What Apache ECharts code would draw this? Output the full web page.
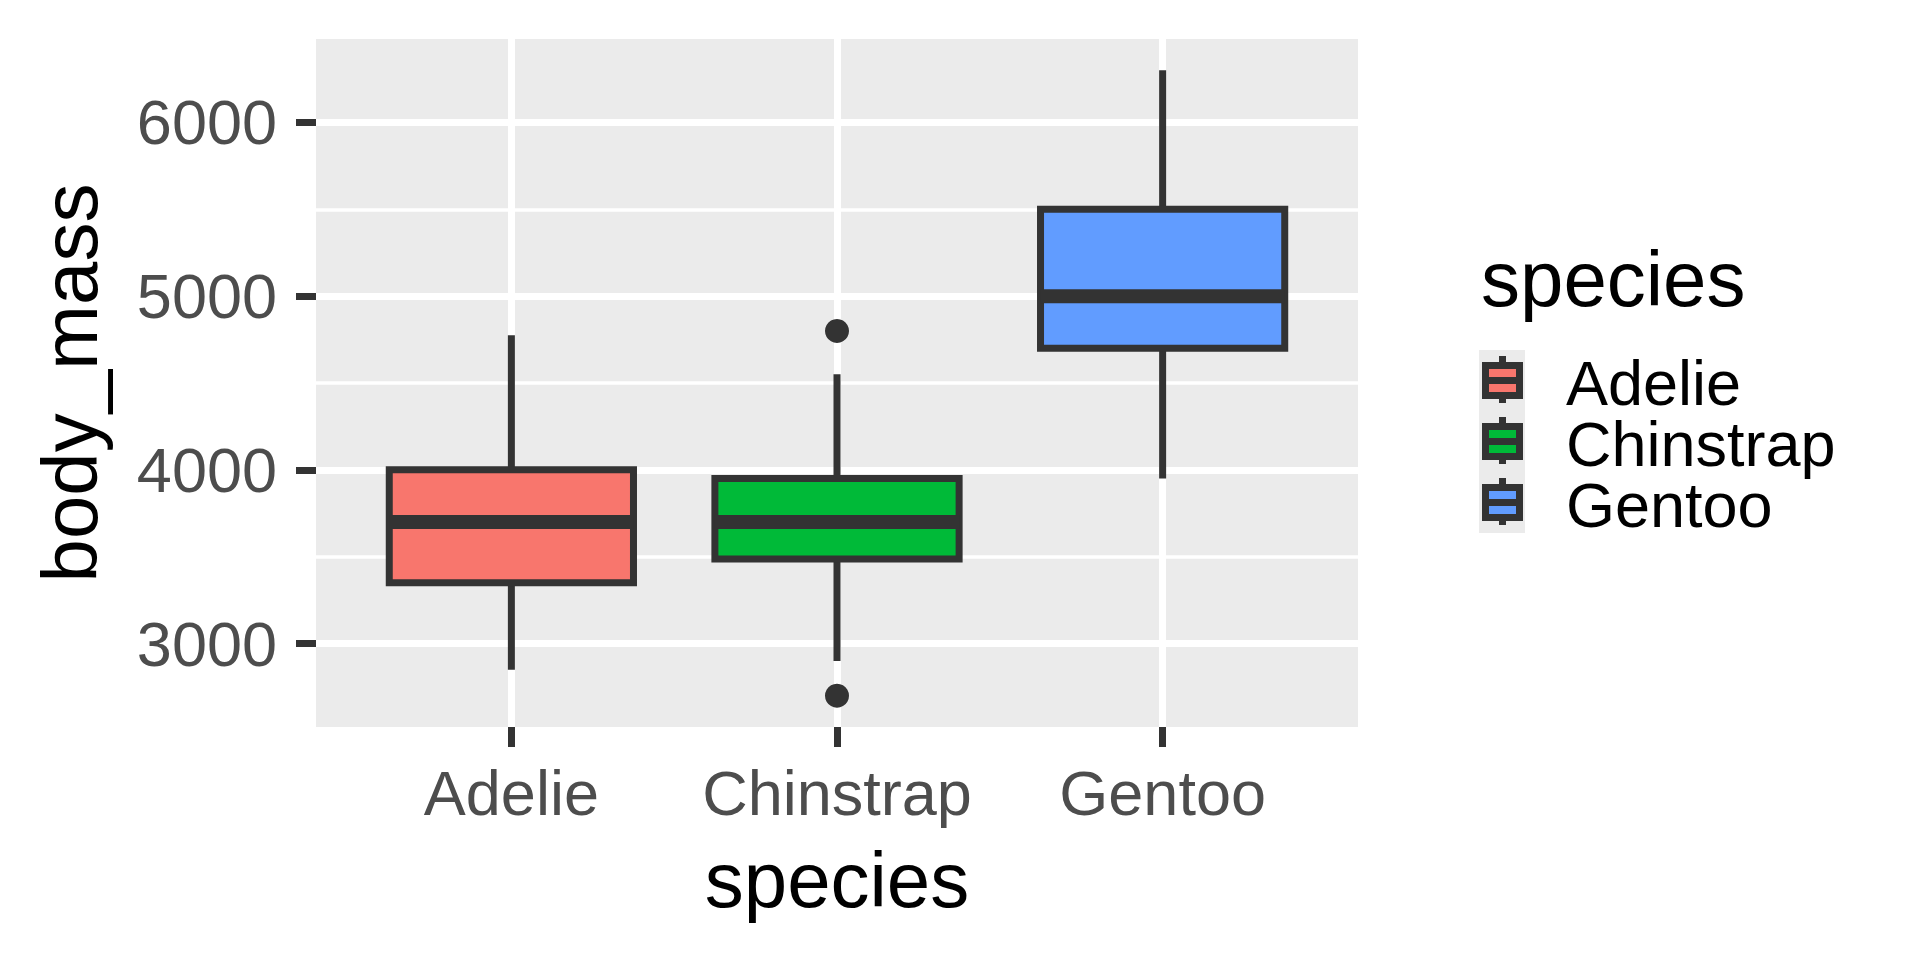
<!DOCTYPE html>
<html>
<head>
<meta charset="utf-8">
<title>body_mass by species</title>
<script src="https://cdn.jsdelivr.net/npm/echarts@6/dist/echarts.min.js"></script>
<style>
  html, body { margin: 0; padding: 0; background: #fff; }
  #chart { width: 1920px; height: 960px; }
</style>
</head>
<body>
<div id="chart"></div>
<script>
// 分类 + 箱线数据
const species = ["Adelie", "Chinstrap", "Gentoo"];
const whiskerLow = [2850, 2900, 3950];
const q1 = [3350, 3487.5, 4700];
const median = [3700, 3700, 5000];
const q3 = [4000, 3950, 5500];
const whiskerHigh = [4775, 4550, 6300];
// 离群点
const outlierSpecies = ["Chinstrap", "Chinstrap"];
const outlierMass = [2700, 4800];
// 刻度
const yTicks = [3000, 4000, 5000, 6000];
const yMinorTicks = [3500, 4500, 5500];
const fills = ["#F8766D", "#00BA38", "#619CFF"];

const dark = "#333333";
const boxWidth = 0.75;
const font = "Liberation Sans, Arial, sans-serif";

let chart = echarts.init(document.getElementById("chart"), null, { renderer: "svg" });

function boxData() {
	return species.map(function (s, i) {
		return [i + 1, whiskerLow[i], q1[i], median[i], q3[i], whiskerHigh[i]];
	});
}

function outlierData() {
	return outlierSpecies.map(function (s, i) {
		return [species.indexOf(s) + 1, outlierMass[i]];
	});
}

// 画一个箱子
function renderBox(params, api) {
	let x = api.value(0);
	let lo = api.coord([x, api.value(1)]);
	let b1 = api.coord([x, api.value(2)]);
	let md = api.coord([x, api.value(3)]);
	let b3 = api.coord([x, api.value(4)]);
	let hi = api.coord([x, api.value(5)]);
	let left = api.coord([x - boxWidth / 2, api.value(3)])[0];
	let right = api.coord([x + boxWidth / 2, api.value(3)])[0];
	return {
		type: "group",
		children: [{
			type: "line",
			shape: { x1: lo[0], y1: lo[1], x2: hi[0], y2: hi[1] },
			style: { stroke: dark, lineWidth: 7 }
		}, {
			type: "rect",
			shape: { x: left, y: b3[1], width: right - left, height: b1[1] - b3[1] },
			style: { fill: fills[params.dataIndex], stroke: dark, lineWidth: 7 }
		}, {
			type: "line",
			shape: { x1: left, y1: md[1], x2: right, y2: md[1] },
			style: { stroke: dark, lineWidth: 14 }
		}]
	};
}

// 图例 (ggplot 风格)
function legendGraphic() {
	let items = [{
		type: "text",
		left: 1481, top: 239,
		style: { text: "species", font: "78px " + font, fill: "#000", lineHeight: 80 }
	}];
	species.forEach(function (s, i) {
		let top = 350 + i * 61;
		items.push({
			type: "rect",
			shape: { x: 1479, y: top, width: 46, height: 61 },
			style: { fill: "#EBEBEB" }
		}, {
			type: "line",
			shape: { x1: 1502.5, y1: top + 6, x2: 1502.5, y2: top + 53 },
			style: { stroke: dark, lineWidth: 7 }
		}, {
			type: "rect",
			shape: { x: 1485.5, y: top + 15.5, width: 34, height: 30 },
			style: { fill: fills[i], stroke: dark, lineWidth: 7 }
		}, {
			type: "line",
			shape: { x1: 1482, y1: top + 30.5, x2: 1523, y2: top + 30.5 },
			style: { stroke: dark, lineWidth: 7 }
		}, {
			type: "text",
			x: 1566, y: top + 33,
			style: { text: s, font: "63px " + font, fill: "#000", verticalAlign: "middle", lineHeight: 58 }
		});
	});
	return items;
}

function init() {
	chart.setOption({
		animation: false,
		grid: {
			left: 316, top: 39, width: 1042, height: 688,
			show: true, backgroundColor: "#EBEBEB", borderWidth: 0
		},
		xAxis: {
			type: "value",
			min: 0.4, max: 3.6,
			name: "species",
			nameLocation: "middle",
			nameGap: 114,
			nameMoveOverlap: false,
			nameTextStyle: { fontSize: 78, color: "#000", fontFamily: font },
			axisLine: { show: false },
			axisTick: { show: true, length: 20, customValues: [1, 2, 3], lineStyle: { color: dark, width: 7 } },
			axisLabel: {
				customValues: [1, 2, 3], margin: 34,
				fontSize: 63, color: "#4D4D4D", fontFamily: font,
				formatter: function (v) { return species[Math.round(v) - 1]; }
			},
			splitLine: { show: true, lineStyle: { color: "#fff", width: 7 } }
		},
		yAxis: [{
			type: "value",
			min: 2520, max: 6480,
			name: "body_mass",
			nameLocation: "middle",
			nameGap: 207,
			nameMoveOverlap: false,
			nameTextStyle: { fontSize: 78, color: "#000", fontFamily: font },
			axisLine: { show: false },
			axisTick: { show: true, length: 20, customValues: yTicks, lineStyle: { color: dark, width: 7 } },
			axisLabel: {
				customValues: yTicks, margin: 39, fontSize: 63, color: "#4D4D4D", fontFamily: font,
				formatter: function (v) { return String(v); }
			},
			splitLine: { show: true, lineStyle: { color: "#fff", width: 7 } }
		}, {
			// 次网格线
			type: "value",
			min: 2520, max: 6480,
			position: "left",
			axisLine: { show: false },
			axisTick: { show: false, customValues: yMinorTicks },
			axisLabel: { show: false, customValues: yMinorTicks },
			splitLine: { show: true, lineStyle: { color: "#fff", width: 3.5 } }
		}],
		graphic: legendGraphic(),
		series: [{
			type: "custom",
			name: "body_mass",
			renderItem: renderBox,
			data: boxData(),
			encode: { x: 0, y: [1, 2, 3, 4, 5] },
			z: 3
		}, {
			type: "scatter",
			name: "outliers",
			data: outlierData(),
			symbolSize: 24,
			itemStyle: { color: dark, opacity: 1 },
			z: 4
		}]
	});
}
init();
</script>
</body>
</html>
